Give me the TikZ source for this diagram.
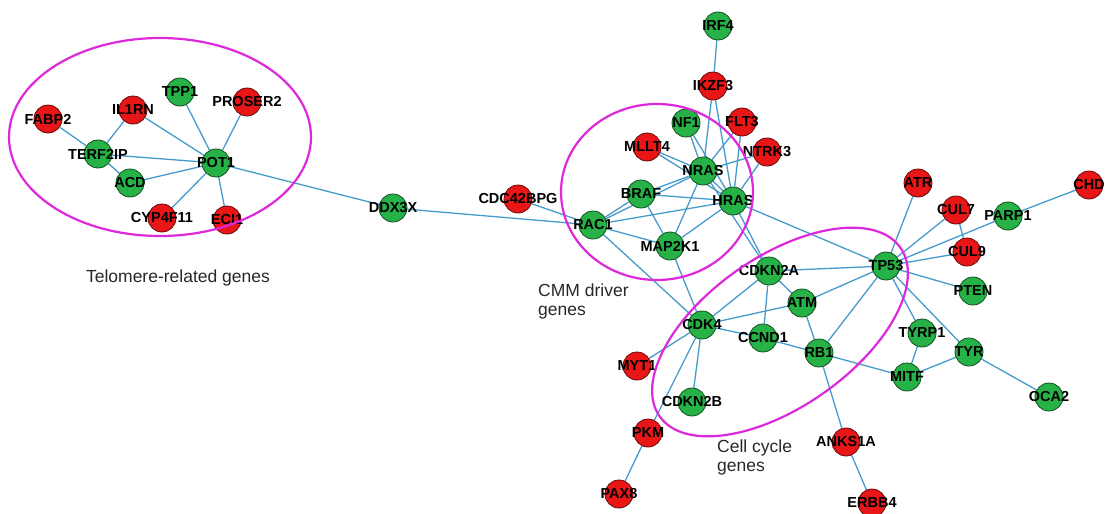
\documentclass[tikz,border=0pt]{standalone}
\usepackage{fontspec}
\setmainfont{Liberation Sans}
\pgfdeclarelayer{edges}
\pgfdeclarelayer{front}
\pgfsetlayers{edges,main,front}
\definecolor{gfill}{RGB}{38,178,70}
\definecolor{rfill}{RGB}{232,22,22}
\definecolor{edgeblue}{RGB}{70,155,205}
\definecolor{ring}{RGB}{222,40,220}
\definecolor{capgray}{RGB}{40,40,40}
\tikzset{
  gene/.style={circle,minimum size=28pt,inner sep=0pt,line width=0.8pt},
  upgene/.style={gene,fill=gfill,draw=gfill!45!black},
  dngene/.style={gene,fill=rfill,draw=rfill!45!black},
  genelabel/.style={inner sep=0pt,font=\fontsize{14.5}{16}\selectfont\bfseries,text=black},
  link/.style={draw=edgeblue,line width=1.3pt},
  group/.style={draw=ring,line width=2.2pt},
  caption/.style={inner sep=0pt,font=\fontsize{17.5}{19}\selectfont,text=capgray}
}
% \gene{name}{x,y}{text}{style}
\newcommand\gene[4]{\node[#4] (#1) at (#2) {};\node[genelabel] (#1l) at (#1) {#3};}
\begin{document}
\begin{tikzpicture}[x=1pt,y=-1pt]
\useasboundingbox (0,0) rectangle (1106,514);

% telomere module
\gene{FABP2}{48,119}{FABP2}{dngene}
\gene{IL1RN}{133,110}{IL1RN}{dngene}
\gene{TPP1}{180,92}{TPP1}{upgene}
\gene{PROSER2}{247,102}{PROSER2}{dngene}
\gene{TERF2IP}{98,154}{TERF2IP}{upgene}
\gene{POT1}{216,163}{POT1}{upgene}
\gene{ACD}{130,183}{ACD}{upgene}
\gene{CYP4F11}{162,218}{CYP4F11}{dngene}
\gene{ECI1}{227,220}{ECI1}{dngene}
\gene{DDX3X}{393,208}{DDX3X}{upgene}
\gene{CDC42BPG}{518,199}{CDC42BPG}{dngene}

% CMM driver module
\gene{IRF4}{718,26}{IRF4}{upgene}
\gene{IKZF3}{713,86}{IKZF3}{dngene}
\gene{NF1}{686,123}{NF1}{upgene}
\gene{FLT3}{742,122}{FLT3}{dngene}
\gene{MLLT4}{647,147}{MLLT4}{dngene}
\gene{NTRK3}{767,152}{NTRK3}{dngene}
\gene{NRAS}{703,171}{NRAS}{upgene}
\gene{BRAF}{641,194}{BRAF}{upgene}
\gene{HRAS}{733,201}{HRAS}{upgene}
\gene{RAC1}{593,225}{RAC1}{upgene}
\gene{MAP2K1}{670,246}{MAP2K1}{upgene}

% cell cycle module and neighbours
\gene{CDKN2A}{769,271}{CDKN2A}{upgene}
\gene{TP53}{886,266}{TP53}{upgene}
\gene{ATM}{802,303}{ATM}{upgene}
\gene{CDK4}{702,325}{CDK4}{upgene}
\gene{CCND1}{763,338}{CCND1}{upgene}
\gene{RB1}{819,353}{RB1}{upgene}
\gene{MYT1}{637,366}{MYT1}{dngene}
\gene{CDKN2B}{692,402}{CDKN2B}{upgene}
\gene{PKM}{648,433}{PKM}{dngene}
\gene{PAX8}{619,494}{PAX8}{dngene}
\gene{ANKS1A}{846,442}{ANKS1A}{dngene}
\gene{ERBB4}{872,503}{ERBB4}{dngene}
\gene{TYRP1}{922,333}{TYRP1}{upgene}
\gene{TYR}{969,352}{TYR}{upgene}
\gene{MITF}{907,377}{MITF}{upgene}
\gene{OCA2}{1049,397}{OCA2}{upgene}
\gene{PTEN}{973,291}{PTEN}{upgene}
\gene{ATR}{918,183}{ATR}{dngene}
\gene{CUL7}{956,210}{CUL7}{dngene}
\gene{CUL9}{967,252}{CUL9}{dngene}
\gene{PARP1}{1008,216}{PARP1}{upgene}
\gene{CHD}{1089,185}{CHD}{dngene}

\begin{pgfonlayer}{edges}
\fill[white] (0,0) rectangle (1106,514);
\foreach \a/\b in {FABP2/TERF2IP, IL1RN/TERF2IP, TERF2IP/POT1, TERF2IP/ACD,
  IL1RN/POT1, TPP1/POT1, PROSER2/POT1, ACD/POT1, CYP4F11/POT1, ECI1/POT1,
  POT1/DDX3X, DDX3X/RAC1, CDC42BPG/RAC1,
  IRF4/IKZF3, IKZF3/NRAS, IKZF3/HRAS, NF1/NRAS, NF1/HRAS, FLT3/NRAS, FLT3/HRAS,
  MLLT4/NRAS, MLLT4/HRAS, NTRK3/NRAS, NTRK3/HRAS, NRAS/HRAS, BRAF/NRAS, BRAF/HRAS,
  RAC1/BRAF, RAC1/NRAS, RAC1/HRAS, RAC1/MAP2K1, BRAF/MAP2K1, NRAS/MAP2K1,
  HRAS/MAP2K1, RAC1/CDK4, MAP2K1/CDK4, NRAS/CDKN2A, HRAS/CDKN2A, HRAS/TP53,
  CDKN2A/TP53, CDKN2A/CDK4, CDKN2A/CCND1, CDKN2A/ATM, ATM/CDK4, ATM/RB1, ATM/TP53,
  RB1/TP53, CDK4/CCND1, CCND1/RB1, CDK4/MYT1, CDK4/CDKN2B, CDK4/PKM, PKM/PAX8,
  RB1/MITF, RB1/ANKS1A, ANKS1A/ERBB4,
  TP53/ATR, TP53/CUL7, TP53/PARP1, TP53/CUL9, TP53/PTEN, TP53/TYRP1, TP53/TYR,
  CUL7/CUL9, PARP1/CHD, TYRP1/MITF, MITF/TYR, TYR/OCA2}
  \draw[link] (\a) -- (\b);
\end{pgfonlayer}

\begin{pgfonlayer}{front}
\draw[group] (160,137) ellipse [x radius=151pt, y radius=99pt];
\draw[group] (657,192) ellipse [x radius=96pt, y radius=88pt];
\draw[group, rotate around={35:(780,332)}] (780,332) ellipse [x radius=147pt, y radius=75pt];
\end{pgfonlayer}

\node[caption, anchor=base] (telcap) at (178,282) {Telomere-related genes};
\node[caption, anchor=base west] (cmmcap1) at (538,296.5) {CMM driver};
\node[caption, anchor=base west] (cmmcap2) at (538,315) {genes};
\node[caption, anchor=base west] (cyccap1) at (717,452.5) {Cell cycle};
\node[caption, anchor=base west] (cyccap2) at (717,471.5) {genes};
\end{tikzpicture}
\end{document}
